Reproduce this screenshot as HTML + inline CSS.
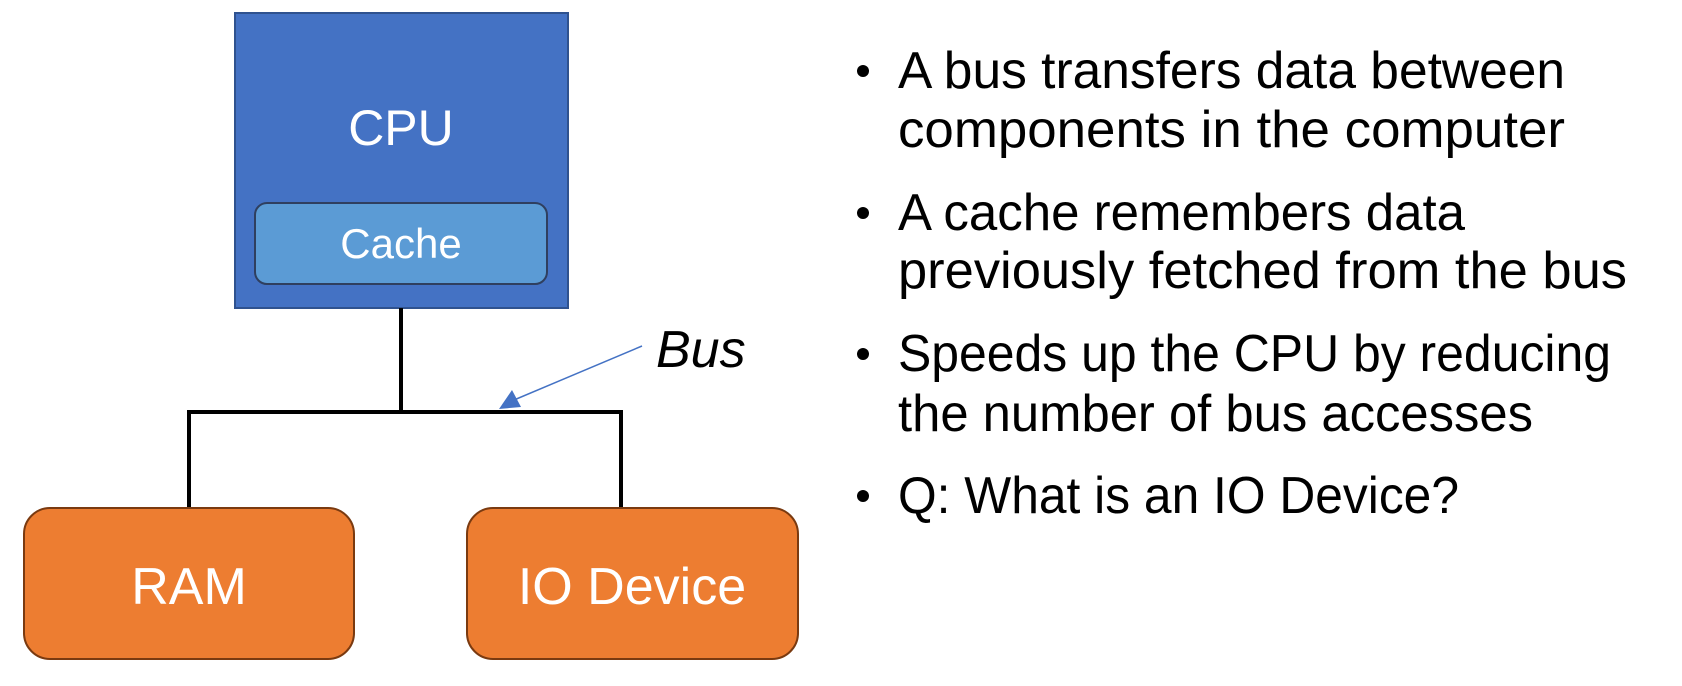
<!DOCTYPE html>
<html><head><style>html,body{margin:0;padding:0;background:#fff}svg{display:block}</style></head>
<body>
<svg width="1682" height="686" viewBox="0 0 1682 686" xmlns="http://www.w3.org/2000/svg" font-family="'Liberation Sans', sans-serif">
<rect x="235" y="13" width="333" height="295" fill="#4472C4" stroke="#2F528F" stroke-width="2"/>
<rect x="255" y="203" width="292" height="81" rx="12" fill="#5B9BD5" stroke="#2F3F5F" stroke-width="2"/>
<text x="401" y="145" font-size="50" fill="#fff" text-anchor="middle">CPU</text>
<text x="401" y="258" font-size="42" fill="#fff" text-anchor="middle">Cache</text>
<path d="M401 308 V412 M188 412 H622 M189 410 V518 M621 410 V518" stroke="#000" stroke-width="4" fill="none"/>
<rect x="24" y="508" width="330" height="151" rx="26" fill="#ED7D31" stroke="#7A3A10" stroke-width="2"/>
<rect x="467" y="508" width="331" height="151" rx="26" fill="#ED7D31" stroke="#7A3A10" stroke-width="2"/>
<text x="189" y="604" font-size="52" fill="#fff" text-anchor="middle">RAM</text>
<text x="632" y="604" font-size="52" fill="#fff" text-anchor="middle">IO Device</text>
<line x1="642" y1="346" x2="514" y2="400" stroke="#4472C4" stroke-width="1.5"/>
<polygon points="499,409 512,390 521,407" fill="#4472C4"/>
<text x="656" y="367" font-size="52" font-style="italic" fill="#000">Bus</text>
<g font-size="52" fill="#000">
<circle cx="863" cy="71" r="6"/><circle cx="863" cy="213" r="6"/><circle cx="863" cy="354" r="6"/><circle cx="863" cy="496" r="6"/>
<text x="898" y="88" textLength="667" lengthAdjust="spacingAndGlyphs">A bus transfers data between</text>
<text x="898" y="147" textLength="667" lengthAdjust="spacingAndGlyphs">components in the computer</text>
<text x="898" y="230" textLength="567" lengthAdjust="spacingAndGlyphs">A cache remembers data</text>
<text x="898" y="288" textLength="729" lengthAdjust="spacingAndGlyphs">previously fetched from the bus</text>
<text x="898" y="371" textLength="713" lengthAdjust="spacingAndGlyphs">Speeds up the CPU by reducing</text>
<text x="898" y="431" textLength="635" lengthAdjust="spacingAndGlyphs">the number of bus accesses</text>
<text x="898" y="513" textLength="561" lengthAdjust="spacingAndGlyphs">Q: What is an IO Device?</text>
</g>
</svg>
</body></html>
